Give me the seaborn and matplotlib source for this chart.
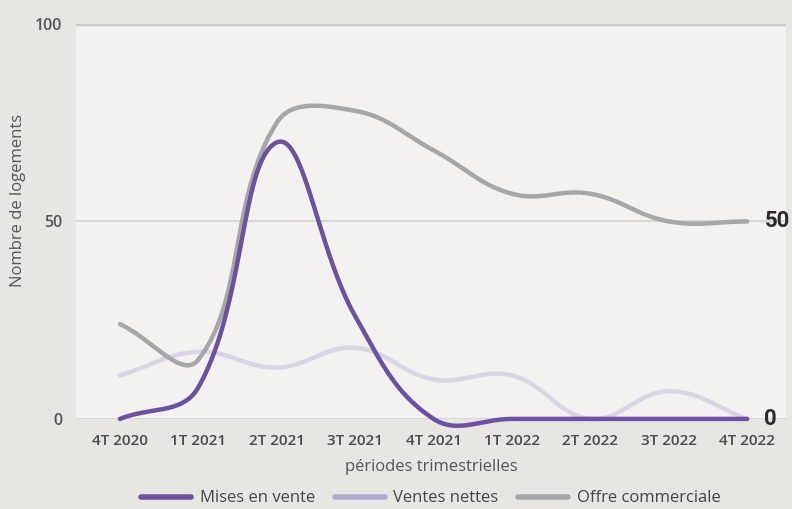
import numpy as np
import pandas as pd
import matplotlib.pyplot as plt
import seaborn as sns
from matplotlib.lines import Line2D

periods = ['4T 2020', '1T 2021', '2T 2021', '3T 2021', '4T 2021',
           '1T 2022', '2T 2022', '3T 2022', '4T 2022']
mises_en_vente = [0, 8, 70, 26, 0, 0, 0, 0, 0]
ventes_nettes = [11, 17, 13, 18, 10, 11, 0, 7, 0]
offre_commerciale = [24, 15, 75, 78, 68, 57, 57, 50, 50]

series_names = ['Mises en vente', 'Ventes nettes', 'Offre commerciale']
series_colors = ['#6b52a0', '#b3aad2', '#a6a7a9']
series_alpha = [1.0, 0.4, 1.0]


def spline(values, sx, sy, tension=0.4, steps=40):
    # chart.js style bezier smoothing, distances measured in pixels
    pts = np.column_stack([np.arange(len(values)), values]).astype(float)
    scale = np.array([sx, sy])
    n = len(pts)
    cp_prev, cp_next = [], []
    for i in range(n):
        prev = pts[i - 1] if i > 0 else pts[i]
        nxt = pts[i + 1] if i < n - 1 else pts[i]
        d01 = np.hypot(*((pts[i] - prev) * scale))
        d12 = np.hypot(*((nxt - pts[i]) * scale))
        fa = tension * d01 / (d01 + d12)
        fb = tension * d12 / (d01 + d12)
        cp_prev.append(pts[i] - fa * (nxt - prev))
        cp_next.append(pts[i] + fb * (nxt - prev))
    t = np.linspace(0, 1, steps, endpoint=False)[:, None]
    segs = []
    for i in range(n - 1):
        p0, p1, p2, p3 = pts[i], cp_next[i], cp_prev[i + 1], pts[i + 1]
        segs.append((1 - t) ** 3 * p0 + 3 * (1 - t) ** 2 * t * p1
                    + 3 * (1 - t) * t ** 2 * p2 + t ** 3 * p3)
    segs.append(pts[-1:])
    out = np.vstack(segs)
    return out[:, 0], out[:, 1]


sns.set_style('white')
plt.rcParams['font.family'] = ['Open Sans', 'DejaVu Sans']

fig = plt.figure(figsize=(7.92, 5.09), dpi=100)
fig.patch.set_facecolor('#e7e6e3')
ax = fig.add_axes([0.096, 0.177, 0.896, 0.776])
ax.set_facecolor('#f3f2f0')
ax.set_xlim(-0.56, 8.49)
ax.set_ylim(0, 100)

# pixel size of one unit on each axis
o = ax.transData.transform((0, 0))
sx = ax.transData.transform((1, 0))[0] - o[0]
sy = ax.transData.transform((0, 1))[1] - o[1]

for val in [0, 50]:
    ax.axhline(val, color='#d2d2d0', lw=1.2, zorder=1)
ax.axhline(100, color='#c8ccca', lw=2.5, zorder=1)

frames = []
for name, vals in zip(series_names, [mises_en_vente, ventes_nettes, offre_commerciale]):
    xs, ys = spline(vals, sx, sy)
    frames.append(pd.DataFrame({'x': xs, 'y': ys, 'serie': name}))
df = pd.concat(frames)

for name, col, alpha, z in zip(series_names, series_colors, series_alpha, [5, 3, 4]):
    sns.lineplot(data=df[df['serie'] == name], x='x', y='y', color=col, alpha=alpha,
                 lw=3.2, ax=ax, zorder=z, legend=False, estimator=None, sort=False,
                 solid_capstyle='round', clip_on=False)

ax.set_xlim(-0.56, 8.49)
ax.set_ylim(0, 100)
ax.set_xticks(range(len(periods)))
ax.set_xticklabels(periods, fontsize=11, fontweight='semibold', color='#4a4a4a')
ax.set_yticks([0, 50, 100])
ax.set_yticklabels(['0', '50', '100'], fontsize=11.5, fontweight='semibold', color='#555555')
ax.tick_params(axis='x', length=0, pad=11)
ax.tick_params(axis='y', length=0, pad=10)
for s in ax.spines.values():
    s.set_visible(False)

ax.set_xlabel('périodes trimestrielles', fontsize=12, color='#555555', labelpad=8)
ax.set_ylabel('Nombre de logements', fontsize=12, color='#555555')
ax.yaxis.set_label_coords(-0.07, 0.552)

# end labels
for val in [offre_commerciale[-1], mises_en_vente[-1]]:
    ax.text(8.22, val, str(val), fontsize=16, fontweight='bold', color='#2b2b2b',
            va='center', ha='left', clip_on=False, family=['Roboto', 'DejaVu Sans'])

handles = [Line2D([0], [0], color=c, lw=4) for c in series_colors]
leg = ax.legend(handles, series_names, loc='upper center', bbox_to_anchor=(0.5, -0.16),
                ncol=3, frameon=False, fontsize=12, handlelength=3.0,
                columnspacing=1.2, handletextpad=0.5, borderpad=0)
for t in leg.get_texts():
    t.set_color('#444444')

fig.savefig('out.png', dpi=100, facecolor=fig.get_facecolor())
